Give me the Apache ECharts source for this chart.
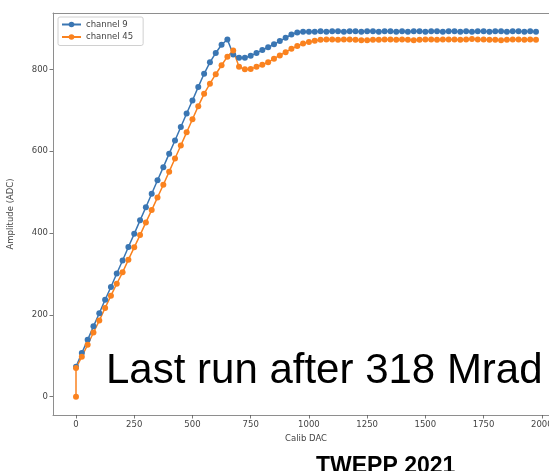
<!DOCTYPE html>
<html>
<head>
<meta charset="utf-8">
<script src="https://cdn.jsdelivr.net/npm/echarts@6/dist/echarts.min.js"></script>
<style>html,body{margin:0;padding:0;background:#fff}#c{width:549px;height:471px}</style>
</head>
<body>
<div id="c"></div>
<script>
const seriesNames = ['channel 9', 'channel 45'];
const xTicks = [0, 250, 500, 750, 1000, 1250, 1500, 1750, 2000];
const yTicks = [0, 200, 400, 600, 800];

const calibDac9 = [0,25,50,75,100,125,150,175,200,225,250,275,300,325,350,375,400,425,450,475,
  500,525,550,575,600,625,650,675,700,725,750,775,800,825,850,875,900,925,950,975,
  1000,1025,1050,1075,1100,1125,1150,1175,1200,1225,1250,1275,1300,1325,1350,1375,1400,1425,1450,1475,
  1500,1525,1550,1575,1600,1625,1650,1675,1700,1725,1750,1775,1800,1825,1850,1875,1900,1925,1950,1975];
const amp9 = [73,107,139,172,204,237,268,301,333,366,398,431,463,496,529,561,594,626,659,692,
  724,757,789,817,840,860,873,836,828,828,833,840,847,854,861,869,877,885,890,892,
  892,892,893,892,893,893,892,893,893,892,893,893,892,893,893,892,893,892,893,893,
  892,893,893,892,893,893,892,893,892,893,893,892,893,893,892,893,893,892,893,892];

const calibDac45 = [0,0,25,50,75,100,125,150,175,200,225,250,275,300,325,350,375,400,425,450,475,
  500,525,550,575,600,625,650,675,700,725,750,775,800,825,850,875,900,925,950,975,
  1000,1025,1050,1075,1100,1125,1150,1175,1200,1225,1250,1275,1300,1325,1350,1375,1400,1425,1450,1475,
  1500,1525,1550,1575,1600,1625,1650,1675,1700,1725,1750,1775,1800,1825,1850,1875,1900,1925,1950,1975];
const amp45 = [0,70,98,127,157,186,217,247,276,304,335,365,395,426,456,487,518,550,582,614,646,
  678,710,740,765,788,810,831,846,806,800,801,806,811,817,826,834,842,850,857,863,
  867,870,872,873,873,872,873,873,872,871,871,872,872,873,873,872,873,872,871,872,
  873,873,872,873,873,873,872,873,874,873,873,872,872,871,872,873,873,872,873,872];

const xLabel = 'Calib DAC';
const yLabel = 'Amplitude (ADC)';
const overlayText = 'Last run after 318 Mrad';
const footerText = 'TWEPP 2021';

const colors = ['#3a76b3', '#fa821f'];
const tickFont = 'DejaVu Sans';
const spine = {show: true, onZero: false, lineStyle: {color: '#8e8e8e', width: 1}};
const zip = (xs, ys) => xs.map((x, i) => [x, ys[i]]);
const plain = v => String(v);

const chart = echarts.init(document.getElementById('c'), null, {renderer: 'canvas'});
chart.setOption({
  animation: false,
  backgroundColor: '#fff',
  grid: {left: 53, top: 13, right: -10, bottom: 56, show: false, outerBoundsMode: 'none', containLabel: false},
  xAxis: [{
    type: 'value', min: -98.75, max: 2073.75, position: 'bottom',
    name: xLabel, nameLocation: 'middle', nameGap: 17,
    nameTextStyle: {fontFamily: tickFont, fontSize: 8.5, color: '#444'},
    axisLine: spine,
    axisTick: {show: true, inside: false, length: 3.5, lineStyle: {color: '#555', width: 0.8}, customValues: xTicks},
    axisLabel: {fontFamily: tickFont, fontSize: 8.5, color: '#444', margin: 5, customValues: xTicks, formatter: plain, hideOverlap: false},
    splitLine: {show: false}
  }, {
    type: 'value', min: -98.75, max: 2073.75, position: 'top',
    axisLine: spine, axisTick: {show: false}, axisLabel: {show: false}, splitLine: {show: false}
  }],
  yAxis: {
    type: 'value', min: -44.6, max: 937.6,
    name: yLabel, nameLocation: 'middle', nameGap: 38, nameRotate: 90,
    nameTextStyle: {fontFamily: tickFont, fontSize: 8.5, color: '#444'},
    axisLine: spine,
    axisTick: {show: true, inside: false, length: 3.5, lineStyle: {color: '#555', width: 0.8}, customValues: yTicks},
    axisLabel: {fontFamily: tickFont, fontSize: 8.5, color: '#444', margin: 5, customValues: yTicks, formatter: plain},
    splitLine: {show: false}
  },
  legend: {
    orient: 'vertical', left: 58, top: 17,
    data: seriesNames,
    itemWidth: 19, itemHeight: 7, itemGap: 3.5,
    padding: [3, 10, 4, 3],
    backgroundColor: '#fff', borderColor: '#d0d0d0', borderWidth: 1, borderRadius: 2,
    textStyle: {fontFamily: tickFont, fontSize: 8.5, color: '#444'}
  },
  series: [
    {name: seriesNames[0], type: 'line', data: zip(calibDac9, amp9), color: colors[0],
     symbol: 'circle', symbolSize: 6, showSymbol: true, lineStyle: {width: 1.5}, itemStyle: {borderWidth: 0}},
    {name: seriesNames[1], type: 'line', data: zip(calibDac45, amp45), color: colors[1],
     symbol: 'circle', symbolSize: 6, showSymbol: true, lineStyle: {width: 1.5}, itemStyle: {borderWidth: 0}}
  ],
  graphic: [
    {type: 'text', left: 106, top: 350, z: 100,
     style: {text: overlayText, font: '42px "Liberation Sans", Arial, sans-serif', fill: '#000'}},
    {type: 'text', left: 316, top: 455, z: 100,
     style: {text: footerText, font: 'bold 23px "Liberation Sans", Arial, sans-serif', fill: '#000'}}
  ]
});
</script>
</body>
</html>
